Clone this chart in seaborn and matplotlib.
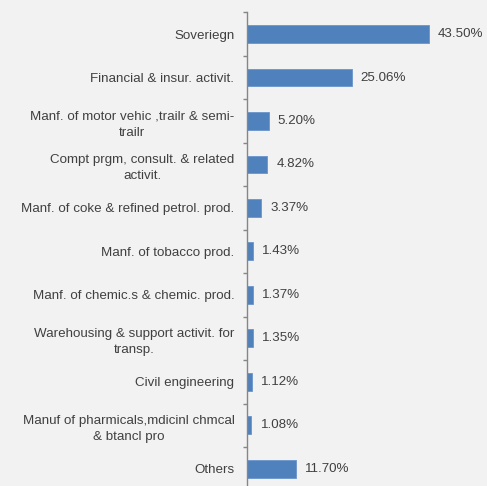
import matplotlib
matplotlib.use("Agg")
import matplotlib.pyplot as plt
import seaborn as sns
import pandas as pd
import numpy as np

categories = [
    "Soveriegn",
    "Financial & insur. activit.",
    "Manf. of motor vehic ,trailr & semi-\ntrailr",
    "Compt prgm, consult. & related\nactivit.",
    "Manf. of coke & refined petrol. prod.",
    "Manf. of tobacco prod.",
    "Manf. of chemic.s & chemic. prod.",
    "Warehousing & support activit. for\ntransp.",
    "Civil engineering",
    "Manuf of pharmicals,mdicinl chmcal\n& btancl pro",
    "Others",
]
shares = [43.50, 25.06, 5.20, 4.82, 3.37, 1.43, 1.37, 1.35, 1.12, 1.08, 11.70]
value_labels = ["43.50%", "25.06%", "5.20%", "4.82%", "3.37%", "1.43%",
                "1.37%", "1.35%", "1.12%", "1.08%", "11.70%"]

df = pd.DataFrame({"sector": categories, "share": shares})

sns.set_style("white")
plt.rcParams["font.family"] = ["Liberation Sans", "DejaVu Sans"]

bg = "#F2F2F2"
text_color = "#404040"
axis_color = "#868686"
fs = 9.6

fig = plt.figure(figsize=(4.87, 4.86), dpi=100, facecolor=bg)
ax = fig.add_axes([0.507, -0.0093, 0.493, 0.984])
ax.set_facecolor(bg)

sns.barplot(data=df, x="share", y="sector", orient="h", color="#4F81BD",
            saturation=1, width=0.41, edgecolor="#6A95CC", linewidth=0.6, ax=ax)

for i, (v, lab) in enumerate(zip(shares, value_labels)):
    ax.text(v + 2.2, i, lab, va="center", ha="left", fontsize=fs, color=text_color)

ax.set_xlim(0, 57.5)
ax.set_ylim(len(categories) - 0.5, -0.5)
ax.set_xlabel("")
ax.set_ylabel("")
ax.set_xticks([])

for s in ["top", "right", "bottom"]:
    ax.spines[s].set_visible(False)
ax.spines["left"].set_color(axis_color)
ax.spines["left"].set_linewidth(1.0)

ax.set_yticks(np.arange(len(categories)))
ax.set_yticklabels(categories, fontsize=fs, color=text_color, multialignment="center",
                   linespacing=1.45)
ax.tick_params(axis="y", which="major", left=True, length=0, pad=9)
ax.set_yticks(np.arange(len(categories) + 1) - 0.5, minor=True)
ax.tick_params(axis="y", which="minor", left=True, length=3, width=1.0,
               color=axis_color, direction="out")

fig.savefig("out.png", dpi=100, facecolor=bg)
